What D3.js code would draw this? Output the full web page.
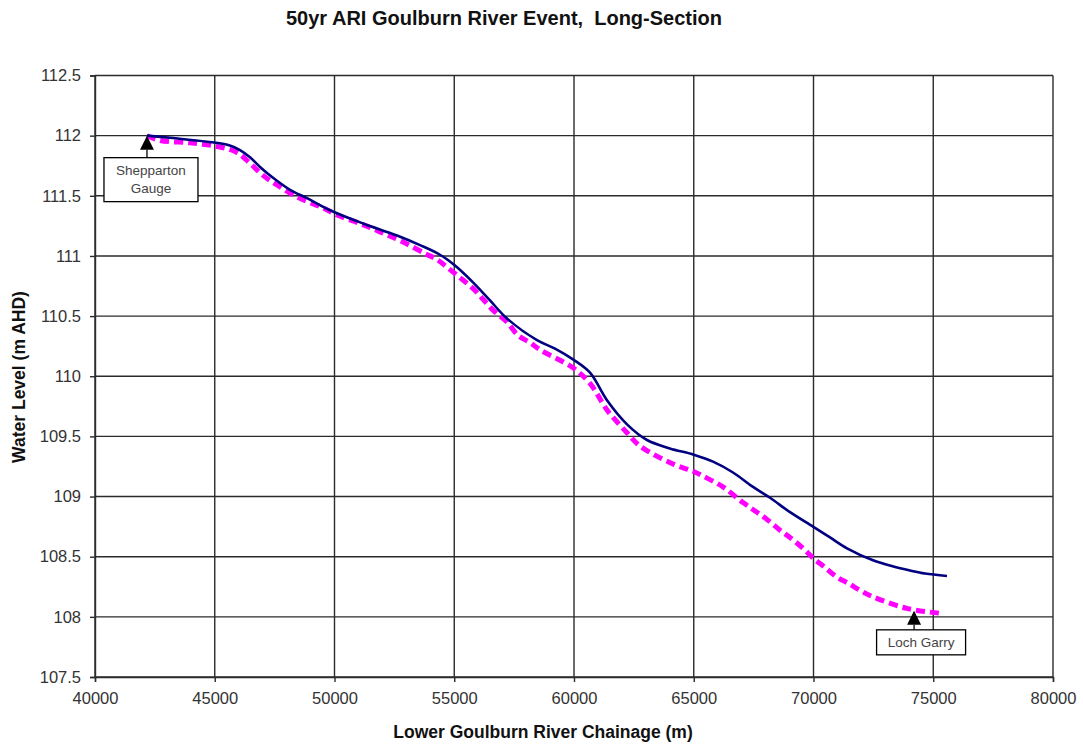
<!DOCTYPE html>
<html>
<head>
<meta charset="utf-8">
<script src="https://cdn.jsdelivr.net/npm/d3@7"></script>
<style>
  body { margin: 0; background: #fff; }
  svg { display: block; font-family: "Liberation Sans", Arial, sans-serif; }
</style>
</head>
<body>
<svg id="chart" width="1083" height="746"></svg>
<script>
// ---- Data ----
const chartTitle = "50yr ARI Goulburn River Event,  Long-Section";
const xTitle = "Lower Goulburn River Chainage (m)";
const yTitle = "Water Level (m AHD)";

const xTicks = [40000, 45000, 50000, 55000, 60000, 65000, 70000, 75000, 80000];
const yTicks = [107.5, 108, 108.5, 109, 109.5, 110, 110.5, 111, 111.5, 112, 112.5];

// Solid navy series
const seriesAChainage = [42170, 43257, 44676, 45600, 46054, 46472, 46889, 47432, 48142, 48852, 49812,
  51190, 52610, 53570, 54405, 55031, 55783, 56493, 57203, 58455, 59207, 59958, 60668, 61378,
  62213, 63048, 64000, 64969, 65804, 66639, 67474, 68184, 69019, 69979, 70689, 71399, 72485,
  73300, 74030, 74656, 75574];
const seriesALevel = [112.00, 111.98, 111.95, 111.92, 111.88, 111.82, 111.74, 111.65, 111.55, 111.48, 111.38,
  111.27, 111.17, 111.09, 111.01, 110.92, 110.78, 110.63, 110.48, 110.30, 110.23, 110.14, 110.03, 109.80,
  109.60, 109.47, 109.40, 109.35, 109.29, 109.20, 109.08, 108.99, 108.87, 108.75, 108.66, 108.57, 108.47,
  108.42, 108.385, 108.36, 108.34];

// Dashed magenta series
const seriesBChainage = [42171, 42714, 43967, 45094, 45929, 46472, 47015, 47599, 48434, 49520,
  50104, 51065, 51900, 52818, 53779, 54280, 54739, 55240, 55783, 56201, 56618, 57203, 57662,
  58163, 58581, 59958, 60668, 61378, 62213, 62756, 64134, 64969, 65386, 66221, 67057, 67558,
  68059, 68601, 69019, 69562, 69979, 70480, 70981, 71441, 71942, 72443, 73904, 75282];
const seriesBLevel = [112.00, 111.96, 111.94, 111.91, 111.86, 111.77, 111.67, 111.59, 111.49, 111.40,
  111.34, 111.27, 111.20, 111.12, 111.02, 110.97, 110.90, 110.82, 110.73, 110.64, 110.55, 110.45, 110.34,
  110.28, 110.22, 110.07, 109.94, 109.72, 109.53, 109.42, 109.27, 109.21, 109.17, 109.08, 108.95, 108.88,
  108.81, 108.72, 108.66, 108.57, 108.49, 108.41, 108.33, 108.28, 108.22, 108.17, 108.07, 108.03];

// Annotations (point marked, label lines)
const annotationNames = [["Shepparton", "Gauge"], ["Loch Garry"]];
const annotationChainage = [42170, 74200];
const annotationLevel = [112.0, 108.05];

// ---- Layout ----
const svg = d3.select("#chart");
const x = d3.scaleLinear().domain([40000, 80000]).range([95, 1053]);
const y = d3.scaleLinear().domain([107.5, 112.5]).range([677, 75.5]);

const gridColor = "#2b2b2b";
const textColor = "#333";

// Gridlines
const grid = svg.append("g");
grid.selectAll("line.v").data(xTicks).join("line")
  .attr("x1", d => x(d)).attr("x2", d => x(d))
  .attr("y1", y(112.5)).attr("y2", y(107.5))
  .attr("stroke", gridColor).attr("stroke-width", 1.4);
grid.selectAll("line.h").data(yTicks).join("line")
  .attr("x1", x(40000)).attr("x2", x(80000))
  .attr("y1", d => y(d)).attr("y2", d => y(d))
  .attr("stroke", gridColor).attr("stroke-width", 1.4);

// Axes
const xAxis = d3.axisBottom(x).tickValues(xTicks).tickSize(5).tickPadding(10)
  .tickFormat(d3.format("d"));
const yAxis = d3.axisLeft(y).tickValues(yTicks).tickSize(5).tickPadding(9)
  .tickFormat(d => String(d));

const gx = svg.append("g").attr("transform", `translate(0,${y(107.5)})`).call(xAxis);
const gy = svg.append("g").attr("transform", `translate(${x(40000)},0)`).call(yAxis);
[gx, gy].forEach(g => {
  g.select(".domain").attr("stroke", gridColor).attr("stroke-width", 1.4);
  g.selectAll(".tick line").attr("stroke", gridColor).attr("stroke-width", 1.4);
  g.selectAll(".tick text").attr("fill", textColor)
    .style("font-size", "16.5px").style("font-family", "'Liberation Sans', Arial, sans-serif");
});

// Lines
const lineGen = d3.line().x(d => x(d[0])).y(d => y(d[1])).curve(d3.curveCatmullRom.alpha(0.5));
const dataA = seriesAChainage.map((c, i) => [c, seriesALevel[i]]);
const dataB = seriesBChainage.map((c, i) => [c, seriesBLevel[i]]);

svg.append("path").datum(dataB).attr("d", lineGen)
  .attr("fill", "none").attr("stroke", "#ff00ff").attr("stroke-width", 5)
  .attr("stroke-dasharray", "9,5");
svg.append("path").datum(dataA).attr("d", lineGen)
  .attr("fill", "none").attr("stroke", "#000080").attr("stroke-width", 2.6);

// Annotations
const boxes = [
  { w: 94, h: 44, dy: 22 },
  { w: 89, h: 25, dy: 19, dx: 7 }
];
annotationNames.forEach((lines, i) => {
  const px = x(annotationChainage[i]);
  const py = y(annotationLevel[i]);
  const b = boxes[i];
  const g = svg.append("g");
  g.append("path")
    .attr("d", `M${px},${py} L${px - 7},${py + 14} L${px + 7},${py + 14} Z`)
    .attr("fill", "#000");
  g.append("line").attr("x1", px).attr("x2", px)
    .attr("y1", py + 14).attr("y2", py + b.dy).attr("stroke", "#000").attr("stroke-width", 1.3);
  const cx = px + (b.dx || 4);
  g.append("rect")
    .attr("x", cx - b.w / 2).attr("y", py + b.dy)
    .attr("width", b.w).attr("height", b.h)
    .attr("fill", "#fff").attr("stroke", "#000").attr("stroke-width", 1.3);
  const t = g.append("text").attr("text-anchor", "middle")
    .attr("fill", "#444").style("font-size", "13.5px");
  lines.forEach((ln, j) => {
    t.append("tspan").attr("x", cx)
      .attr("y", py + b.dy + (lines.length === 1 ? 17.5 : 17 + j * 18))
      .text(ln);
  });
});

// Titles
svg.append("text").attr("x", 504).attr("y", 25).attr("text-anchor", "middle")
  .style("font-size", "20px").style("font-weight", "bold").style("white-space", "pre")
  .attr("fill", "#111").text(chartTitle);
svg.append("text").attr("x", 543).attr("y", 738).attr("text-anchor", "middle")
  .style("font-size", "17.5px").style("font-weight", "bold").attr("fill", "#111").text(xTitle);
svg.append("text").attr("transform", "translate(25,377) rotate(-90)").attr("text-anchor", "middle")
  .style("font-size", "17.5px").style("font-weight", "bold").attr("fill", "#111").text(yTitle);
</script>
</body>
</html>
